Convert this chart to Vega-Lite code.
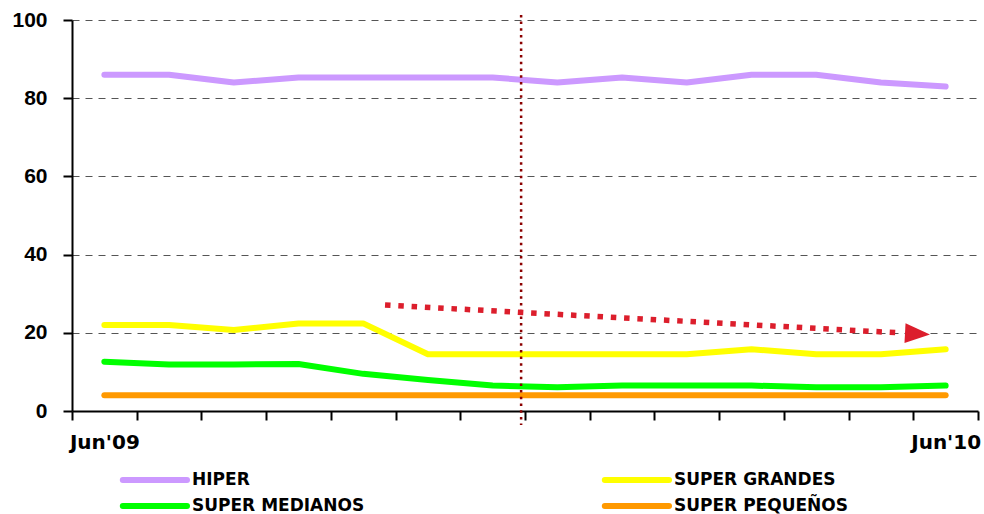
{
  "$schema": "https://vega.github.io/schema/vega-lite/v6.json",
  "width": 906,
  "height": 391,
  "autosize": {"type": "none"},
  "padding": {"left": 72, "top": 20, "right": 6, "bottom": 103},
  "background": "white",
  "config": {"view": {"stroke": null}},
  "layer": [
    {
      "data": {"values": [
        {"s": "HIPER", "t": 1, "v": 86}, {"s": "HIPER", "t": 2, "v": 86}, {"s": "HIPER", "t": 3, "v": 84}, {"s": "HIPER", "t": 4, "v": 85.3}, {"s": "HIPER", "t": 5, "v": 85.3}, {"s": "HIPER", "t": 6, "v": 85.3}, {"s": "HIPER", "t": 7, "v": 85.3}, {"s": "HIPER", "t": 8, "v": 84}, {"s": "HIPER", "t": 9, "v": 85.3}, {"s": "HIPER", "t": 10, "v": 84}, {"s": "HIPER", "t": 11, "v": 86}, {"s": "HIPER", "t": 12, "v": 86}, {"s": "HIPER", "t": 13, "v": 84}, {"s": "HIPER", "t": 14, "v": 83},
        {"s": "SUPER GRANDES", "t": 1, "v": 22}, {"s": "SUPER GRANDES", "t": 2, "v": 22}, {"s": "SUPER GRANDES", "t": 3, "v": 20.7}, {"s": "SUPER GRANDES", "t": 4, "v": 22.4}, {"s": "SUPER GRANDES", "t": 5, "v": 22.4}, {"s": "SUPER GRANDES", "t": 6, "v": 14.5}, {"s": "SUPER GRANDES", "t": 7, "v": 14.5}, {"s": "SUPER GRANDES", "t": 8, "v": 14.5}, {"s": "SUPER GRANDES", "t": 9, "v": 14.5}, {"s": "SUPER GRANDES", "t": 10, "v": 14.5}, {"s": "SUPER GRANDES", "t": 11, "v": 15.8}, {"s": "SUPER GRANDES", "t": 12, "v": 14.5}, {"s": "SUPER GRANDES", "t": 13, "v": 14.5}, {"s": "SUPER GRANDES", "t": 14, "v": 15.8},
        {"s": "SUPER MEDIANOS", "t": 1, "v": 12.6}, {"s": "SUPER MEDIANOS", "t": 2, "v": 11.9}, {"s": "SUPER MEDIANOS", "t": 3, "v": 11.9}, {"s": "SUPER MEDIANOS", "t": 4, "v": 12}, {"s": "SUPER MEDIANOS", "t": 5, "v": 9.5}, {"s": "SUPER MEDIANOS", "t": 6, "v": 7.9}, {"s": "SUPER MEDIANOS", "t": 7, "v": 6.5}, {"s": "SUPER MEDIANOS", "t": 8, "v": 6.1}, {"s": "SUPER MEDIANOS", "t": 9, "v": 6.5}, {"s": "SUPER MEDIANOS", "t": 10, "v": 6.5}, {"s": "SUPER MEDIANOS", "t": 11, "v": 6.5}, {"s": "SUPER MEDIANOS", "t": 12, "v": 6.1}, {"s": "SUPER MEDIANOS", "t": 13, "v": 6.1}, {"s": "SUPER MEDIANOS", "t": 14, "v": 6.5},
        {"s": "SUPER PEQUEÑOS", "t": 1, "v": 4}, {"s": "SUPER PEQUEÑOS", "t": 2, "v": 4}, {"s": "SUPER PEQUEÑOS", "t": 3, "v": 4}, {"s": "SUPER PEQUEÑOS", "t": 4, "v": 4}, {"s": "SUPER PEQUEÑOS", "t": 5, "v": 4}, {"s": "SUPER PEQUEÑOS", "t": 6, "v": 4}, {"s": "SUPER PEQUEÑOS", "t": 7, "v": 4}, {"s": "SUPER PEQUEÑOS", "t": 8, "v": 4}, {"s": "SUPER PEQUEÑOS", "t": 9, "v": 4}, {"s": "SUPER PEQUEÑOS", "t": 10, "v": 4}, {"s": "SUPER PEQUEÑOS", "t": 11, "v": 4}, {"s": "SUPER PEQUEÑOS", "t": 12, "v": 4}, {"s": "SUPER PEQUEÑOS", "t": 13, "v": 4}, {"s": "SUPER PEQUEÑOS", "t": 14, "v": 4}
      ]},
      "mark": {"type": "line", "strokeWidth": 6, "strokeCap": "round", "strokeJoin": "round"},
      "encoding": {
        "x": {
          "field": "t", "type": "ordinal", "bandPosition": 0.5,
          "scale": {"type": "band", "paddingInner": 0, "paddingOuter": 0},
          "axis": {
            "title": null, "tickBand": "extent", "grid": false,
            "labelExpr": "datum.value == 1 ? \"Jun'09\" : (datum.value == 14 ? \"Jun'10\" : \"\")",
            "labelAngle": 0, "labelOverlap": false, "labelFont": "DejaVu Sans", "labelFontSize": 20, "labelFontWeight": "bold", "labelColor": "black", "labelPadding": 12,
            "tickSize": 9, "tickWidth": 2, "tickColor": "black", "domainColor": "black", "domainWidth": 2
          }
        },
        "y": {
          "field": "v", "type": "quantitative",
          "scale": {"domain": [0, 100], "nice": false},
          "axis": {
            "title": null, "values": [0, 20, 40, 60, 80, 100], "grid": true, "gridDash": [7, 6], "gridColor": "#555", "gridWidth": 1,
            "labelFont": "Liberation Sans", "labelFontSize": 21, "labelFontWeight": "bold", "labelColor": "black", "labelPadding": 16,
            "tickSize": 9, "tickWidth": 2, "tickColor": "black", "domainColor": "black", "domainWidth": 2
          }
        },
        "color": {
          "field": "s", "type": "nominal",
          "scale": {"domain": ["HIPER", "SUPER GRANDES", "SUPER MEDIANOS", "SUPER PEQUEÑOS"], "range": ["#cc99ff", "#ffff00", "#00ff00", "#ff9900"]},
          "legend": {
            "orient": "none", "legendX": 100, "legendY": 451, "direction": "horizontal", "columns": 2, "columnPadding": 227, "rowPadding": 2,
            "title": null, "padding": 0, "symbolType": "M-9.7,0H1", "symbolSize": 144, "symbolStrokeWidth": 6,
            "labelFont": "DejaVu Sans", "labelFontSize": 17, "labelFontWeight": "bold", "labelColor": "black", "labelOffset": 2, "labelLimit": 400,
            "encode": {"symbols": {"update": {"strokeCap": {"value": "round"}}}}
          }
        }
      }
    },
    {
      "data": {"values": [{"p": 7.44, "top": 101.3, "bot": -3.6}]},
      "mark": {"type": "rule", "color": "#8b0000", "strokeWidth": 2.5, "strokeDash": [2.5, 4.2], "clip": false},
      "encoding": {
        "x": {"field": "p", "type": "quantitative", "scale": {"domain": [0.5, 14.5], "nice": false, "zero": false}, "axis": null},
        "y": {"field": "top", "type": "quantitative"},
        "y2": {"field": "bot"}
      }
    },
    {
      "data": {"values": [{"p": 5.337, "v": 27.1}, {"p": 13.33, "v": 19.95}]},
      "mark": {"type": "line", "color": "#dc1e2c", "strokeWidth": 5.5, "strokeDash": [5.5, 7.8], "strokeCap": "butt"},
      "encoding": {
        "x": {"field": "p", "type": "quantitative", "scale": {"domain": [0.5, 14.5], "nice": false, "zero": false}, "axis": null},
        "y": {"field": "v", "type": "quantitative"}
      }
    },
    {
      "data": {"values": [{"p": 13.565, "v": 19.75}]},
      "mark": {"type": "point", "shape": "M1,0L-1,-0.8L-1,0.8Z", "filled": true, "opacity": 1, "color": "#dc1e2c", "size": 625, "angle": 3},
      "encoding": {
        "x": {"field": "p", "type": "quantitative", "scale": {"domain": [0.5, 14.5], "nice": false, "zero": false}, "axis": null},
        "y": {"field": "v", "type": "quantitative"}
      }
    }
  ],
  "resolve": {"scale": {"x": "independent"}}
}
